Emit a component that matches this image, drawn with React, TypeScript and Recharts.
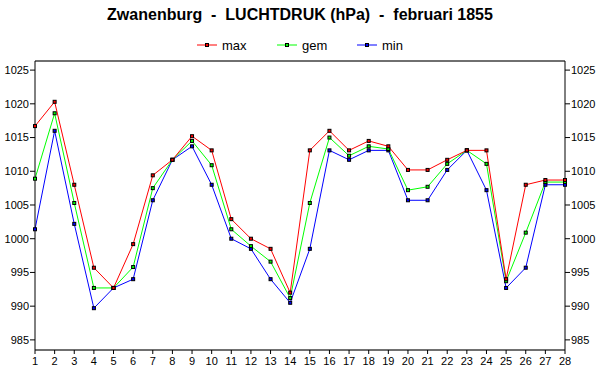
import React from 'react';
import { LineChart, Line, XAxis, YAxis, CartesianGrid, ReferenceLine } from 'recharts';

const days = [1, 2, 3, 4, 5, 6, 7, 8, 9, 10, 11, 12, 13, 14, 15, 16, 17, 18, 19, 20, 21, 22, 23, 24, 25, 26, 27, 28];

const maxValues = [1016.7, 1020.3, 1008.0, 995.7, 992.7, 999.2, 1009.4, 1011.7, 1015.2, 1013.1, 1002.9, 1000.0, 998.5, 992.0, 1013.1, 1016.0, 1013.1, 1014.5, 1013.7, 1010.2, 1010.2, 1011.7, 1013.1, 1013.1, 994.0, 1008.0, 1008.7, 1008.7];
const gemValues = [1008.9, 1018.6, 1005.3, 992.7, 992.7, 995.8, 1007.5, 1011.7, 1014.5, 1010.9, 1001.4, 998.9, 996.6, 991.2, 1005.3, 1015.0, 1012.3, 1013.7, 1013.3, 1007.2, 1007.7, 1011.1, 1013.1, 1011.1, 993.7, 1000.9, 1008.4, 1008.4];
const minValues = [1001.4, 1016.0, 1002.2, 989.7, 992.7, 994.0, 1005.7, 1011.7, 1013.7, 1008.0, 1000.0, 998.5, 994.0, 990.5, 998.5, 1013.1, 1011.7, 1013.1, 1013.1, 1005.7, 1005.7, 1010.2, 1013.1, 1007.2, 992.7, 995.7, 1008.0, 1008.0];

const yTicks = [985, 990, 995, 1000, 1005, 1010, 1015, 1020, 1025];
const yMin = 983.5;
const yMax = 1026.35;

const series = [
  { key: 'max', color: '#ff0000' },
  { key: 'gem', color: '#00ff00' },
  { key: 'min', color: '#0000ff' },
];

const data = days.map((d, i) => ({
  day: d,
  max: maxValues[i],
  gem: gemValues[i],
  min: minValues[i],
}));

const font = '"Liberation Sans", Arial, sans-serif';

// small square marker with black outline
const SquareDot = (color: string) => (props: any) => {
  const { cx, cy, index } = props;
  if (cx == null || cy == null) return <g key={index} />;
  return <rect key={index} x={cx - 1.5} y={cy - 1.5} width={3} height={3} fill={color} stroke="#000" strokeWidth={1} />;
};

const tickStyle = { fontSize: 11, fill: '#000', fontFamily: font };

export default function App() {
  return (
    <div style={{ position: 'absolute', left: 0, top: 0, width: 600, height: 390, background: '#fff', fontFamily: font }}>
      <svg width={600} height={60} style={{ position: 'absolute', left: 0, top: 0 }}>
        <text x={300} y={20} textAnchor="middle" fontSize={16} fontWeight="bold" fill="#000" style={{ whiteSpace: 'pre' }}>
          {'Zwanenburg  -  LUCHTDRUK (hPa)  -  februari 1855'}
        </text>
        {series.map((s, i) => {
          const x0 = 197 + i * 80;
          return (
            <g key={s.key}>
              <line x1={x0} y1={45} x2={x0 + 20} y2={45} stroke={s.color} strokeWidth={1} />
              <rect x={x0 + 8.5} y={43.5} width={3} height={3} fill={s.color} stroke="#000" strokeWidth={1} />
              <text x={x0 + 25} y={49.5} fontSize={13} fill="#000">{s.key}</text>
            </g>
          );
        })}
      </svg>
      <div style={{ position: 'absolute', left: 0, top: 0 }}>
        <LineChart width={600} height={390} data={data} margin={{ top: 61, right: 0, bottom: 0, left: 0 }}>
          <CartesianGrid vertical={false} stroke="#c0c0c0" strokeWidth={1} />
          <XAxis
            dataKey="day"
            type="number"
            domain={[1, 28]}
            ticks={days}
            interval={0}
            height={40}
            tickSize={4}
            tickMargin={3}
            axisLine={{ stroke: '#000' }}
            tickLine={{ stroke: '#000' }}
            tick={tickStyle}
          />
          <YAxis
            yAxisId="left"
            orientation="left"
            width={35}
            domain={[yMin, yMax]}
            ticks={yTicks}
            interval={0}
            allowDataOverflow
            tickSize={5}
            tickMargin={1}
            axisLine={{ stroke: '#000' }}
            tickLine={{ stroke: '#000' }}
            tick={tickStyle}
          />
          <YAxis
            yAxisId="right"
            orientation="right"
            width={35}
            domain={[yMin, yMax]}
            ticks={yTicks}
            interval={0}
            allowDataOverflow
            tickSize={5}
            tickMargin={1}
            axisLine={{ stroke: '#000' }}
            tickLine={{ stroke: '#000' }}
            tick={tickStyle}
          />
          <ReferenceLine yAxisId="left" y={yMax} stroke="#000" strokeWidth={1} />
          <Line yAxisId="left" type="linear" dataKey="min" stroke="#0000ff" strokeWidth={1} dot={SquareDot('#0000ff')} isAnimationActive={false} />
          <Line yAxisId="left" type="linear" dataKey="gem" stroke="#00ff00" strokeWidth={1} dot={SquareDot('#00ff00')} isAnimationActive={false} />
          <Line yAxisId="left" type="linear" dataKey="max" stroke="#ff0000" strokeWidth={1} dot={SquareDot('#ff0000')} isAnimationActive={false} />
        </LineChart>
      </div>
    </div>
  );
}
